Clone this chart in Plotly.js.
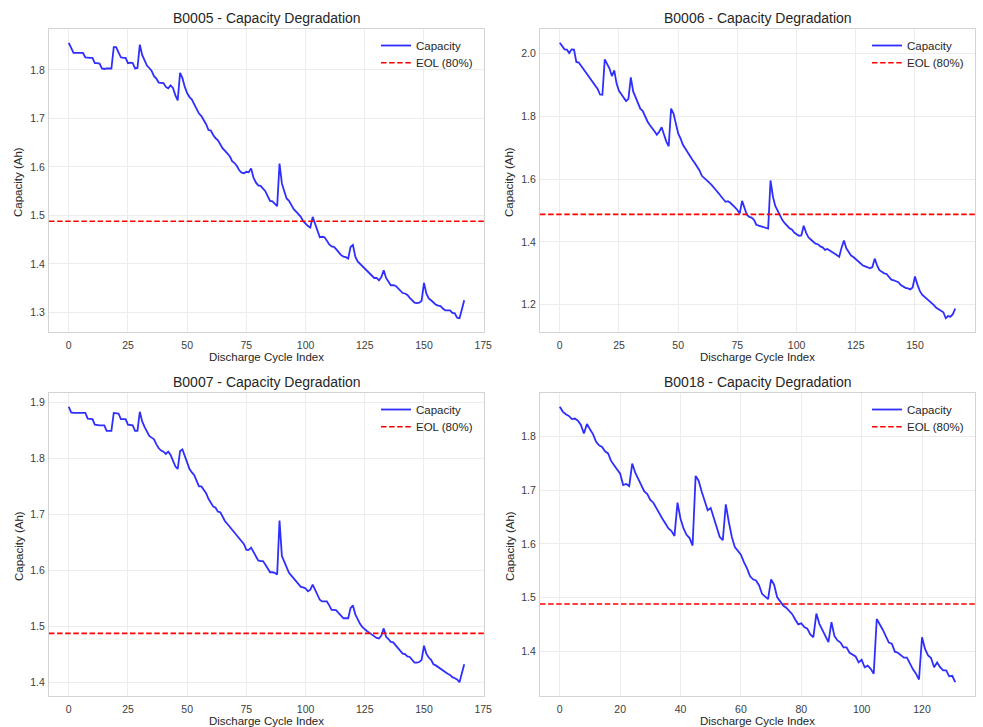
<!DOCTYPE html>
<html>
<head>
<meta charset="utf-8">
<script src="https://cdn.plot.ly/plotly-3.0.1.min.js"></script>
<style>
  html, body { margin: 0; padding: 0; background: #ffffff; }
  #chart { width: 983px; height: 727px; }
</style>
</head>
<body>
<div id="chart"></div>
<script>
// ---- Data ----
const batteryNames = ["B0005", "B0006", "B0007", "B0018"];

const capacityB0005 = [
  1.856, 1.846, 1.835, 1.835, 1.835, 1.836, 1.835, 1.826, 1.825, 1.825,
  1.825, 1.814, 1.814, 1.813, 1.803, 1.802, 1.803, 1.803, 1.803, 1.847,
  1.847, 1.836, 1.826, 1.825, 1.825, 1.814, 1.815, 1.814, 1.803, 1.804,
  1.852, 1.831, 1.820, 1.809, 1.804, 1.798, 1.787, 1.782, 1.774, 1.773,
  1.773, 1.765, 1.762, 1.768, 1.763, 1.748, 1.737, 1.794, 1.783, 1.765,
  1.752, 1.744, 1.739, 1.729, 1.718, 1.710, 1.705, 1.697, 1.688, 1.676,
  1.675, 1.666, 1.659, 1.655, 1.645, 1.638, 1.633, 1.628, 1.622, 1.612,
  1.608, 1.602, 1.593, 1.588, 1.587, 1.590, 1.589, 1.597, 1.578, 1.568,
  1.562, 1.561, 1.556, 1.550, 1.540, 1.530, 1.529, 1.524, 1.519, 1.607,
  1.566, 1.550, 1.535, 1.530, 1.520, 1.513, 1.508, 1.503, 1.497, 1.488,
  1.482, 1.478, 1.475, 1.497, 1.483, 1.468, 1.455, 1.456, 1.455, 1.448,
  1.440, 1.436, 1.435, 1.430, 1.424, 1.418, 1.415, 1.414, 1.411, 1.435,
  1.439, 1.415, 1.405, 1.400, 1.395, 1.390, 1.385, 1.379, 1.374, 1.371,
  1.371, 1.366, 1.373, 1.387, 1.371, 1.364, 1.356, 1.356, 1.355, 1.350,
  1.345, 1.340, 1.339, 1.336, 1.330, 1.325, 1.320, 1.319, 1.320, 1.324,
  1.361, 1.339, 1.329, 1.325, 1.320, 1.316, 1.314, 1.313, 1.308, 1.304,
  1.304, 1.304, 1.299, 1.298, 1.289, 1.288, 1.306, 1.325
];

const capacityB0006 = [
  2.035, 2.025, 2.014, 2.013, 2.002, 2.014, 2.013, 1.974, 1.972, 1.962,
  1.951, 1.941, 1.930, 1.919, 1.909, 1.898, 1.888, 1.870, 1.869, 1.982,
  1.965, 1.953, 1.929, 1.947, 1.905, 1.882, 1.871, 1.860, 1.849, 1.856,
  1.925, 1.880, 1.860, 1.843, 1.825, 1.818, 1.801, 1.785, 1.773, 1.764,
  1.753, 1.742, 1.751, 1.766, 1.740, 1.720, 1.705, 1.825, 1.810, 1.775,
  1.746, 1.730, 1.710, 1.698, 1.685, 1.673, 1.662, 1.652, 1.641, 1.628,
  1.611, 1.605, 1.598, 1.590, 1.583, 1.572, 1.565, 1.556, 1.548, 1.537,
  1.528, 1.530, 1.525, 1.516, 1.510, 1.502, 1.491, 1.531, 1.505, 1.487,
  1.480, 1.478, 1.471, 1.455, 1.452, 1.450, 1.447, 1.445, 1.443, 1.596,
  1.545, 1.515, 1.500, 1.482, 1.470, 1.460, 1.450, 1.444, 1.440, 1.430,
  1.425, 1.420, 1.421, 1.452, 1.430, 1.415, 1.408, 1.402, 1.395, 1.393,
  1.386, 1.383, 1.375, 1.378, 1.374, 1.368, 1.363, 1.358, 1.353, 1.382,
  1.405, 1.380, 1.368, 1.357, 1.352, 1.345, 1.337, 1.331, 1.325, 1.322,
  1.320, 1.316, 1.320, 1.347, 1.325, 1.310, 1.305, 1.300, 1.298, 1.290,
  1.280, 1.278, 1.274, 1.272, 1.263, 1.257, 1.254, 1.252, 1.249, 1.255,
  1.290, 1.265, 1.245, 1.232, 1.226, 1.220, 1.211, 1.205, 1.199, 1.190,
  1.185, 1.180, 1.176, 1.157, 1.164, 1.162, 1.170, 1.188
];

const capacityB0007 = [
  1.892, 1.882, 1.881, 1.881, 1.880, 1.881, 1.881, 1.881, 1.871, 1.870,
  1.870, 1.860, 1.859, 1.859, 1.859, 1.859, 1.849, 1.849, 1.849, 1.881,
  1.881, 1.880, 1.870, 1.870, 1.870, 1.860, 1.860, 1.859, 1.849, 1.849,
  1.883, 1.866, 1.856, 1.849, 1.840, 1.837, 1.834, 1.825, 1.818, 1.814,
  1.812, 1.808, 1.812, 1.806, 1.796, 1.786, 1.781, 1.813, 1.816, 1.803,
  1.791, 1.781, 1.775, 1.770, 1.760, 1.750, 1.750, 1.745, 1.738, 1.728,
  1.720, 1.714, 1.712, 1.705, 1.704, 1.695, 1.688, 1.683, 1.678, 1.673,
  1.668, 1.663, 1.658, 1.653, 1.647, 1.637, 1.637, 1.641, 1.633, 1.624,
  1.618, 1.617, 1.617, 1.611, 1.603, 1.597, 1.597, 1.596, 1.593, 1.689,
  1.626, 1.615, 1.605, 1.596, 1.591, 1.586, 1.581, 1.576, 1.571, 1.570,
  1.568, 1.563, 1.566, 1.575, 1.565, 1.558, 1.548, 1.545, 1.545, 1.545,
  1.538, 1.530, 1.530, 1.529, 1.524, 1.519, 1.515, 1.515, 1.515, 1.533,
  1.538, 1.522, 1.512, 1.505, 1.499, 1.495, 1.492, 1.489, 1.486, 1.482,
  1.480, 1.479, 1.484, 1.497, 1.482, 1.478, 1.473, 1.472, 1.467, 1.462,
  1.456, 1.452, 1.451, 1.447, 1.446, 1.440, 1.436, 1.436, 1.437, 1.441,
  1.466, 1.452, 1.445, 1.441, 1.433, 1.431, 1.428, 1.425, 1.422, 1.418,
  1.416, 1.414, 1.410, 1.408, 1.406, 1.401, 1.420, 1.433
];

const capacityB0018 = [
  1.856, 1.847, 1.842, 1.839, 1.833, 1.834, 1.830, 1.822, 1.806, 1.824,
  1.814, 1.805, 1.791, 1.784, 1.781, 1.773, 1.769, 1.755, 1.747, 1.738,
  1.731, 1.710, 1.712, 1.708, 1.750, 1.733, 1.722, 1.711, 1.698, 1.693,
  1.682, 1.677, 1.666, 1.657, 1.647, 1.638, 1.629, 1.624, 1.615, 1.677,
  1.647, 1.629, 1.617, 1.611, 1.597, 1.727, 1.718, 1.698, 1.682, 1.663,
  1.667, 1.649, 1.627, 1.613, 1.607, 1.674, 1.641, 1.613, 1.594, 1.588,
  1.580, 1.566, 1.555, 1.540, 1.534, 1.532, 1.523, 1.507, 1.502, 1.497,
  1.534, 1.524, 1.501, 1.493, 1.485, 1.481, 1.475, 1.469, 1.459, 1.450,
  1.452, 1.445, 1.442, 1.431, 1.426, 1.470, 1.451, 1.439, 1.426, 1.417,
  1.454, 1.428, 1.420, 1.416, 1.407, 1.407, 1.397, 1.394, 1.390, 1.379,
  1.384, 1.370, 1.373, 1.367, 1.358, 1.460, 1.451, 1.440, 1.428, 1.416,
  1.414, 1.399, 1.397, 1.392, 1.388, 1.388, 1.376, 1.366, 1.358, 1.347,
  1.426, 1.404, 1.392, 1.387, 1.370, 1.379, 1.370, 1.364, 1.364, 1.353,
  1.354, 1.342
];

const capacitySeries = [capacityB0005, capacityB0006, capacityB0007, capacityB0018];
const eolThresholds = [1.488, 1.488, 1.488, 1.488];   // 80% of 1.86 Ah
const yTickSteps = [0.1, 0.2, 0.1, 0.1];
const xTickSteps = [25, 25, 25, 20];

const seriesLabel = "Capacity";
const eolLabel = "EOL (80%)";
const xTitle = "Discharge Cycle Index";
const yTitle = "Capacity (Ah)";

// ---- Layout geometry (pixels in a 983x727 figure) ----
const W = 983, H = 727;
const panels = [
  { l: 49,  r: 484, t: 29,  b: 332 },
  { l: 540, r: 975, t: 29,  b: 332 },
  { l: 49,  r: 484, t: 393, b: 696 },
  { l: 540, r: 975, t: 393, b: 696 }
];

const textColor = "#262626";
const tickColor = "#3d3d3d";
const fontFamily = "Liberation Sans, Arial, Helvetica, sans-serif";

const traces = [];
const layout = {
  width: W, height: H,
  margin: { l: 0, r: 0, t: 0, b: 0 },
  paper_bgcolor: "#ffffff",
  plot_bgcolor: "#ffffff",
  font: { family: fontFamily, color: textColor, size: 11 },
  showlegend: true,
  annotations: []
};

function legendBox(p, rowCenterY) {
  return {
    x: (p.r - 108) / W, xanchor: "left",
    y: 1 - (rowCenterY - 14) / H, yanchor: "top",
    bgcolor: "rgba(255,255,255,0)",
    borderwidth: 0,
    font: { family: fontFamily, size: 11.5, color: textColor }
  };
}

capacitySeries.forEach((vals, k) => {
  const n = vals.length;
  const cycles = vals.map((_, i) => i);
  const xmin = 0, xmax = n - 1;
  const xpad = 0.05 * (xmax - xmin);
  const ymin = Math.min(...vals, eolThresholds[k]);
  const ymax = Math.max(...vals, eolThresholds[k]);
  const ypad = 0.05 * (ymax - ymin);
  const xr = [xmin - xpad, xmax + xpad];
  const yr = [ymin - ypad, ymax + ypad];

  const sfx = k === 0 ? "" : String(k + 1);
  const xa = "x" + sfx, ya = "y" + sfx;
  const lgA = "legend" + (k === 0 ? "" : String(2 * k + 1));
  const lgB = "legend" + String(2 * k + 2);
  const p = panels[k];

  traces.push({
    type: "scatter", mode: "lines",
    x: cycles, y: vals,
    xaxis: xa, yaxis: ya,
    name: seriesLabel, legend: lgA,
    line: { color: "rgba(0,0,255,0.82)", width: 1.8 },
    hoverinfo: "x+y"
  });
  traces.push({
    type: "scatter", mode: "lines",
    x: xr, y: [eolThresholds[k], eolThresholds[k]],
    xaxis: xa, yaxis: ya,
    name: eolLabel, legend: lgB,
    line: { color: "#ff0000", width: 1.6, dash: "5.5px,2.6px" },
    hoverinfo: "y"
  });

  const axCommon = {
    showline: true, linecolor: "#d3d3d3", linewidth: 1.25, mirror: true,
    showgrid: true, gridcolor: "#ececec", gridwidth: 0.9,
    zeroline: false, ticks: "",
    tickfont: { family: fontFamily, size: 10.5, color: tickColor },
    automargin: false
  };

  layout["xaxis" + sfx] = Object.assign({}, axCommon, {
    domain: [p.l / W, p.r / W],
    anchor: ya,
    range: xr,
    tickmode: "linear", tick0: 0, dtick: xTickSteps[k],
    ticklabelstandoff: 3,
    title: { text: xTitle, font: { family: fontFamily, size: 11.5, color: textColor }, standoff: 1 }
  });
  layout["yaxis" + sfx] = Object.assign({}, axCommon, {
    domain: [1 - p.b / H, 1 - p.t / H],
    anchor: xa,
    range: yr,
    tickmode: "linear", tick0: 0, dtick: yTickSteps[k],
    tickformat: ".1f",
    ticklabelstandoff: 1
  });

  layout[lgA] = legendBox(p, p.t + 16);
  layout[lgB] = legendBox(p, p.t + 33.3);

  layout.annotations.push({
    text: batteryNames[k] + " - Capacity Degradation",
    xref: "paper", yref: "paper",
    x: (p.l + p.r) / 2 / W, y: 1 - (p.t - 11) / H,
    xanchor: "center", yanchor: "middle",
    showarrow: false,
    font: { family: fontFamily, size: 14, color: textColor }
  });
  layout.annotations.push({
    text: yTitle,
    xref: "paper", yref: "paper",
    x: (p.l - 30.5) / W, y: 1 - ((p.t + p.b) / 2 + 2) / H,
    xanchor: "center", yanchor: "middle",
    textangle: -90,
    showarrow: false,
    font: { family: fontFamily, size: 11.5, color: textColor }
  });
});

Plotly.newPlot("chart", traces, layout, { displayModeBar: false, responsive: false });
</script>
</body>
</html>
